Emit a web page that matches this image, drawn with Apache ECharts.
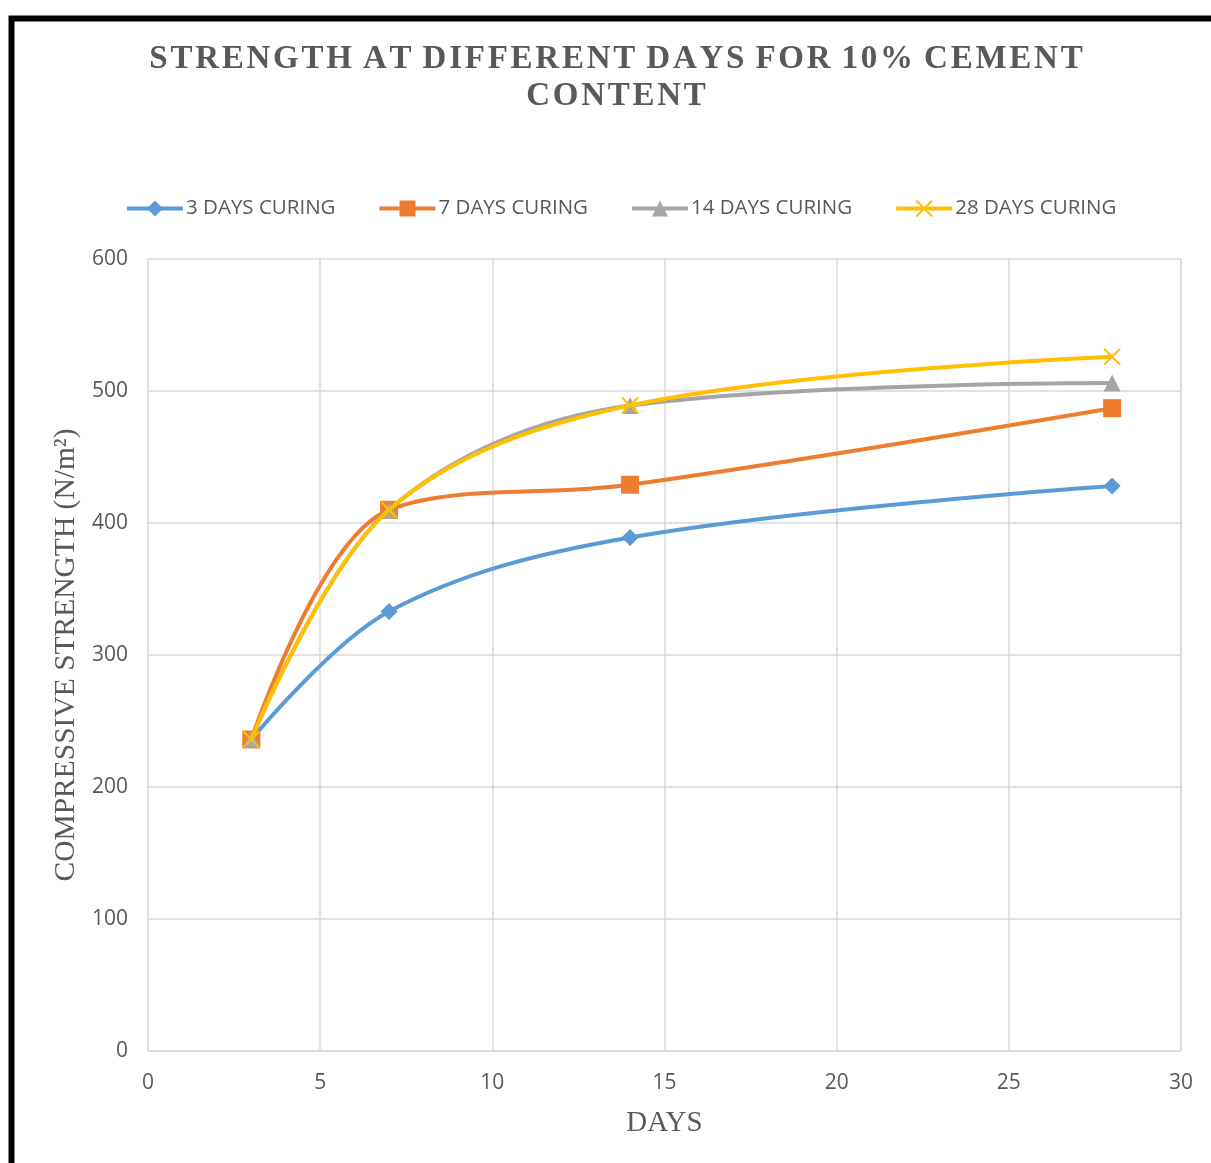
<!DOCTYPE html>
<html><head><meta charset="utf-8">
<script src="https://cdn.jsdelivr.net/npm/echarts@6/dist/echarts.min.js"></script>
<style>html,body{margin:0;padding:0;background:#fff}#c{width:1211px;height:1163px}</style>
</head><body><div id="c"></div>
<script>
const days = [3, 7, 14, 28];
const seriesNames = ['3 DAYS CURING', '7 DAYS CURING', '14 DAYS CURING', '28 DAYS CURING'];
const curing3 = [236, 333, 389, 428];
const curing7 = [236, 410, 429, 487];
const curing14 = [236, 410, 489, 506];
const curing28 = [236, 410, 489, 526];
const titleLines = ['STRENGTH AT DIFFERENT DAYS FOR 10% CEMENT', 'CONTENT'];

const colors = ['#5B9BD5', '#ED7D31', '#A5A5A5', '#FFC000'];
const symbols = ['diamond', 'rect', 'triangle', 'path://M0,0L10,10M10,0L0,10'];
const sizes = [17, 18, 17, 16];
const values = [curing3, curing7, curing14, curing28];

// slight letter spacing using hair spaces
const spaced = s => s.split(' ').map(w => w.split('').join('\u200A')).join(' \u200A');
const titleText = titleLines.map(spaced).join('\n');

const chart = echarts.init(document.getElementById('c'), null, {renderer: 'canvas'});
const series = values.map((v, i) => ({
  name: seriesNames[i],
  type: 'line',
  data: days.map((d, j) => [d, v[j]]),
  smooth: 0.35,
  symbol: symbols[i],
  symbolSize: sizes[i],
  showAllSymbol: true,
  lineStyle: {color: colors[i], width: 4},
  itemStyle: i === 3 ? {color: colors[i], borderColor: colors[i], borderWidth: 2} : {color: colors[i]},
  z: 2 + i
}));

chart.setOption({
  animation: false,
  backgroundColor: '#fff',
  title: {
    text: titleText,
    left: 611, textAlign: 'center', top: 36,
    textStyle: {fontFamily: 'Liberation Serif', fontWeight: 'bold', fontSize: 33, color: '#595959', lineHeight: 37}
  },
  legend: {
    top: 198, left: 125, padding: 0,
    itemWidth: 56, itemHeight: 20, itemGap: 42,
    textStyle: {fontFamily: 'Open Sans', fontSize: 20.5, color: '#595959', padding: [0, 0, 0, -2]},
    data: seriesNames.map((n, i) => ({name: n, lineStyle: {width: 4}}))
  },
  grid: {left: 148, right: 30, top: 259, bottom: 112, containLabel: false},
  xAxis: {
    type: 'value', min: 0, max: 30, interval: 5,
    name: 'DAYS', nameLocation: 'middle', nameGap: 58,
    nameTextStyle: {fontFamily: 'Liberation Serif', fontSize: 29, color: '#595959'},
    axisLine: {show: true, lineStyle: {color: '#D9D9D9', width: 1.5}},
    axisTick: {show: false},
    axisLabel: {fontFamily: 'Open Sans', fontSize: 21, color: '#595959', margin: 22},
    splitLine: {show: true, lineStyle: {color: '#D9D9D9', width: 1.5}}
  },
  yAxis: {
    type: 'value', min: 0, max: 600, interval: 100,
    name: 'COMPRESSIVE STRENGTH (N/m²)', nameLocation: 'middle', nameGap: 66,
    nameTextStyle: {fontFamily: 'Liberation Serif', fontSize: 29.5, color: '#595959'},
    axisLine: {show: false},
    axisTick: {show: false},
    axisLabel: {fontFamily: 'Open Sans', fontSize: 21, color: '#595959', margin: 20},
    splitLine: {show: true, lineStyle: {color: '#D9D9D9', width: 1.5}}
  },
  graphic: [{
    type: 'rect', shape: {x: 11.5, y: 18.5, width: 1400, height: 1400},
    style: {fill: 'none', stroke: '#000', lineWidth: 6}, silent: true, z: 100
  }, {
    type: 'rect', shape: {x: 1180, y: 259, width: 1.5, height: 792},
    style: {fill: '#D9D9D9'}, silent: true, z: 0
  }],
  series: series
});
</script></body></html>
